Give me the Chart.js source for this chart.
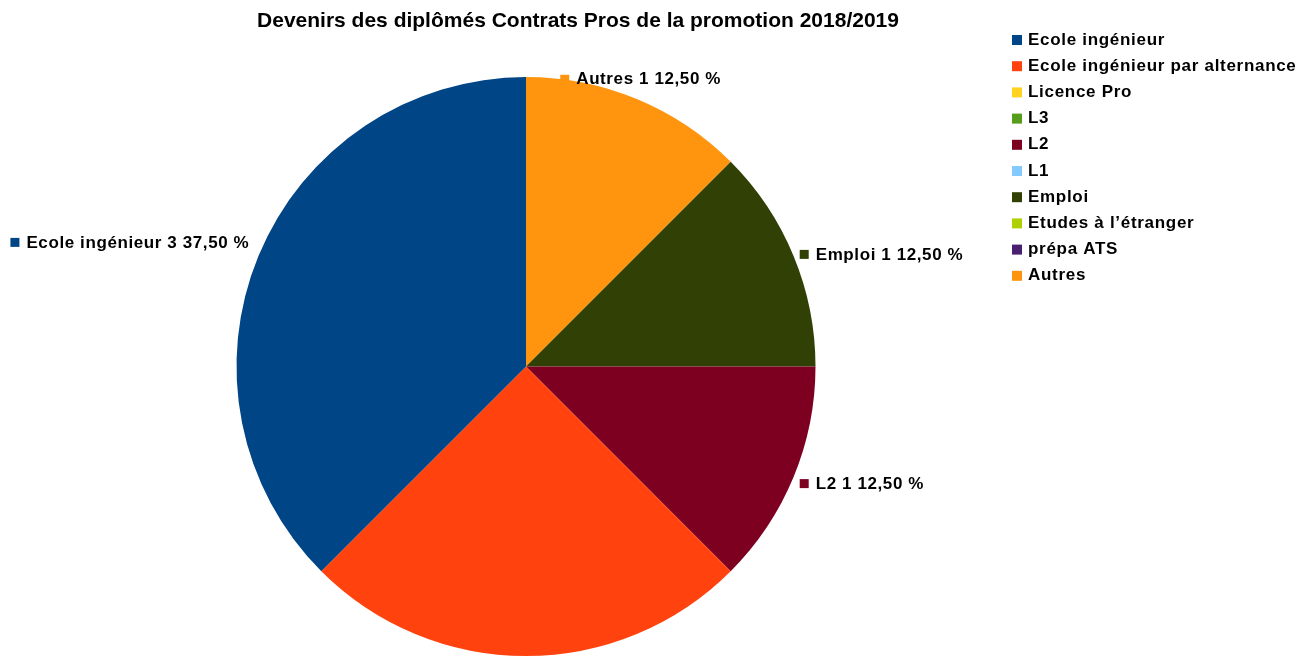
<!DOCTYPE html>
<html>
<head>
<meta charset="utf-8">
<script src="https://cdn.jsdelivr.net/npm/chart.js@4.4.0/dist/chart.umd.min.js"></script>
<style>
  html, body { margin: 0; padding: 0; background: #fff; }
  #wrap { width: 1299px; height: 656px; }
</style>
</head>
<body>
<div id="wrap"><canvas id="pie" width="1299" height="656"></canvas></div>
<script>
// chart data, legend order
const titleText = 'Devenirs des diplômés Contrats Pros de la promotion 2018/2019';
const categories = ['Ecole ingénieur', 'Ecole ingénieur par alternance', 'Licence Pro', 'L3', 'L2', 'L1',
  'Emploi', 'Etudes à l\u2019étranger', 'prépa ATS', 'Autres'];
const counts = [3, 2, 0, 0, 1, 0, 1, 0, 0, 1];
const colors = ['#004586', '#ff420e', '#ffd320', '#579d1c', '#7e0021', '#83caff',
  '#314004', '#aecf00', '#4b1f6f', '#ff950e'];

const FONT = '"Liberation Sans", Arial, sans-serif';
const total = counts.reduce((a, b) => a + b, 0);
const pct = v => (v / total * 100).toFixed(2).replace('.', ',') + ' %';

// LibreOffice goes counter-clockwise, chart.js clockwise -> feed reversed
const rev = a => a.slice().reverse();

const decor = {
    id: 'decor',
    afterDraw(chart) {
        const ctx = chart.ctx;
        ctx.save();
        ctx.fillStyle = '#000';
        ctx.font = 'bold 21px ' + FONT;
        ctx.textAlign = 'center';
        ctx.textBaseline = 'middle';
        ctx.fillText(titleText, 578, 21);

        // legend
        ctx.font = 'bold 17px ' + FONT;
        ctx.letterSpacing = '0.7px';
        ctx.textAlign = 'left';
        categories.forEach((c, i) => {
            const y = 40 + i * 26.2;
            ctx.fillStyle = colors[i];
            ctx.fillRect(1012, y - 5, 10, 10);
            ctx.fillStyle = '#000';
            ctx.fillText(c, 1028, y);
        });

        // slice labels
        ctx.font = 'bold 17px ' + FONT;
        ctx.letterSpacing = '0.6px';
        const meta = chart.getDatasetMeta(0);
        const ds = chart.data.datasets[0];
        meta.data.forEach((arc, i) => {
            const v = ds.data[i];
            if (!v) return;
            const mid = (arc.startAngle + arc.endAngle) / 2;
            const r = arc.outerRadius + 10;
            const px = arc.x + Math.cos(mid) * r;
            const py = arc.y + Math.sin(mid) * r;
            const txt = chart.data.labels[i] + ' ' + v + ' ' + pct(v);
            const w = ctx.measureText(txt).width;
            const box = 16 + w;
            let left, y;
            const cx = Math.cos(mid), sy = Math.sin(mid);
            if (cx > 0.5) { left = px - 3; y = py + 3; }
            else if (cx < -0.5) { left = px - box; y = py - 9; }
            else { left = px - box / 2; y = py + (sy < 0 ? -10 : 10); }
            ctx.fillStyle = ds.backgroundColor[i];
            ctx.fillRect(left, y - 5, 9, 9);
            ctx.fillStyle = '#000';
            ctx.fillText(txt, left + 16, y);
        });
        ctx.restore();
    }
};

new Chart(document.getElementById('pie'), {
    type: 'pie',
    data: {
        labels: rev(categories),
        datasets: [{
            data: rev(counts),
            backgroundColor: rev(colors),
            borderWidth: 0
        }]
    },
    options: {
        responsive: false,
        animation: false,
        layout: { padding: { left: 236, right: 483, top: 77, bottom: -1 } },
        plugins: {
            legend: { display: false },
            title: { display: false },
            tooltip: { enabled: false }
        }
    },
    plugins: [decor]
});
</script>
</body>
</html>
